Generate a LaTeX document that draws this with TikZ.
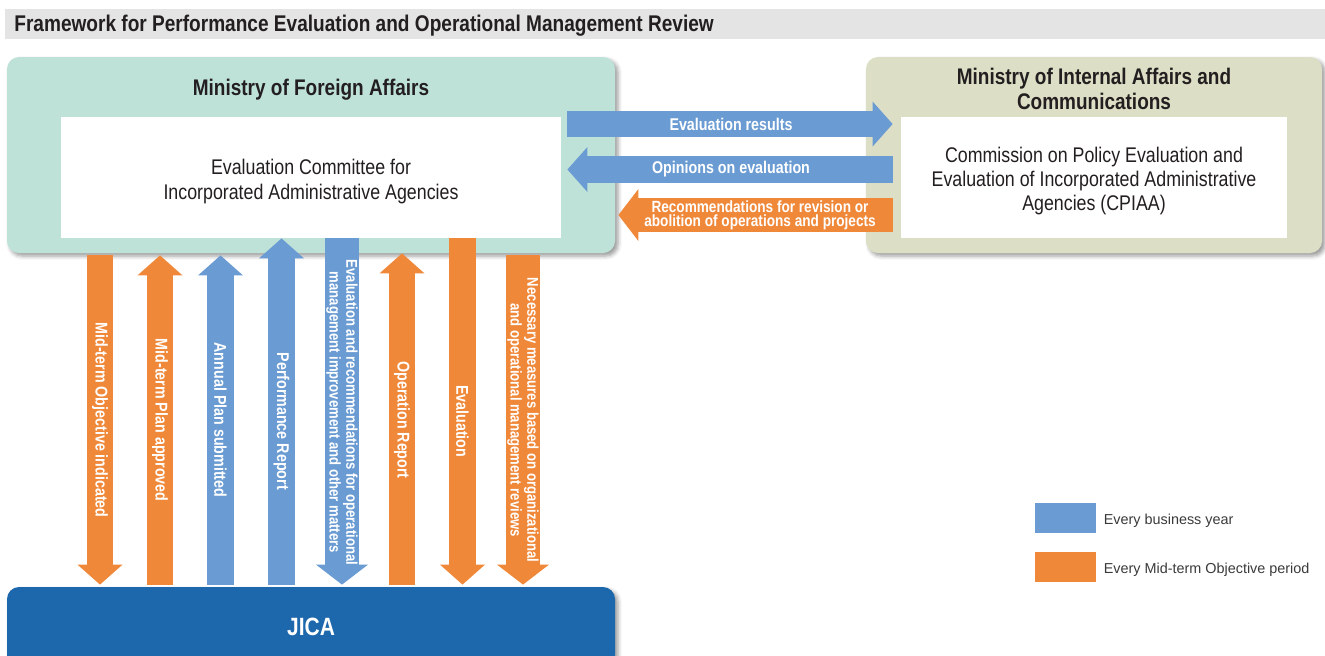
\documentclass[tikz,border=0pt]{standalone}
\usepackage{fontspec}
\setmainfont{Liberation Sans}
\newfontfamily\condfont[FakeStretch=0.84]{Liberation Sans}
\usepackage{tikz}
\usetikzlibrary{arrows.meta, positioning, shadows.blur}
\definecolor{BarGray}{HTML}{E4E4E4}
\definecolor{InkDark}{HTML}{231F20}
\definecolor{MofaTeal}{HTML}{BEE2D8}
\definecolor{MicKhaki}{HTML}{DCDFC5}
\definecolor{JicaBlue}{HTML}{1D68AD}
\definecolor{YearBlue}{HTML}{6A9BD2}
\definecolor{TermOrange}{HTML}{F0883A}
\definecolor{LegendInk}{HTML}{3A3A3A}

\tikzset{
  orgbox/.style={rounded corners=6pt, inner sep=0pt,
    blur shadow={shadow xshift=1.5pt, shadow yshift=-1.5pt, shadow blur radius=2pt, shadow opacity=40}},
  innerbox/.style={fill=white, inner sep=0pt},
  innertext/.style={align=center, inner sep=0pt, text=InkDark,
    font=\condfont\fontsize{10.6}{12.2}\selectfont},
  orgtitle/.style={align=center, text=InkDark, font=\condfont\bfseries\fontsize{11.3}{12.5}\selectfont},
  flowlabel/.style={text=white, align=center, inner sep=0pt,
    font=\condfont\bfseries\fontsize{8.5}{8.5}\selectfont},
  twolinelabel/.style={flowlabel, font=\condfont\bfseries\fontsize{7.8}{8.4}\selectfont},
  flow/.style={line width=13.3pt, -{Triangle[length=10pt, width=22.5pt, line width=0pt]}},
  wideflow/.style={line width=17pt, -{Triangle[length=10pt, width=26pt, line width=0pt]}},
  legendtext/.style={anchor=west, inner sep=0pt, yshift=-1.5pt, text=LegendInk, font=\fontsize{7.2}{8}\selectfont}
}

\begin{document}
\begin{tikzpicture}[x=0.5pt, y=-0.5pt]
  \useasboundingbox (0,0) rectangle (1325,655);
  \clip (0,0) rectangle (1325,655);

  % heading bar
  \fill[BarGray] (5,9) rectangle (1325,39);
  \node[anchor=base west, inner sep=0pt, text=InkDark,
    font=\condfont\bfseries\fontsize{11.35}{12}\selectfont] (heading) at (14,31.5)
    {Framework for Performance Evaluation and Operational Management Review};

  % ministries
  \node[orgbox, fill=MofaTeal, minimum width=304pt, minimum height=98pt] (mofa) at (311,155) {};
  \node[orgtitle] (mofatitle) at (311,89.5) {Ministry of Foreign Affairs};
  \node[innerbox, minimum width=250pt, minimum height=60.5pt] (committee) at (311,177.5) {};
  \node[innertext, yshift=-2pt] (committeetext) at (committee.center)
    {Evaluation Committee for\\Incorporated Administrative Agencies};

  \node[orgbox, fill=MicKhaki, minimum width=228pt, minimum height=98pt] (mic) at (1094,155) {};
  \node[orgtitle] (mictitle) at (1094,88.5) {Ministry of Internal Affairs and\\Communications};
  \node[innerbox, minimum width=193pt, minimum height=60.5pt] (cpiaa) at (1094,177.5) {};
  \node[innertext, yshift=-1.8pt] (cpiaatext) at (cpiaa.center)
    {Commission on Policy Evaluation and\\Evaluation of Incorporated Administrative\\Agencies (CPIAA)};

  % JICA
  \node[orgbox, fill=JicaBlue, minimum width=304pt, minimum height=40pt, text=white,
    font=\condfont\bfseries\fontsize{12.5}{14}\selectfont] (jica) at (311,627) {JICA};

  % flows between the ministries
  \draw[flow, YearBlue, shorten <=3pt, shorten >=4pt] (committee.east |- 0,124) -- (cpiaa.west |- 0,124)
    node[flowlabel, midway] {Evaluation results};
  \draw[flow, YearBlue, shorten <=4pt, shorten >=3pt] (cpiaa.west |- 0,169.5) -- (committee.east |- 0,169.5)
    node[flowlabel, midway] {Opinions on evaluation};
  \draw[wideflow, TermOrange, shorten <=4pt, shorten >=1.5pt] (cpiaa.west |- 0,215) -- (mofa.east |- 0,215)
    node[flowlabel, midway, xshift=1pt, font=\condfont\bfseries\fontsize{8.1}{7}\selectfont]
    {Recommendations for revision or\\abolition of operations and projects};

  % flows between the ministry and JICA
  \draw[flow, TermOrange, shorten <=1pt, shorten >=1pt] (100,0 |- mofa.south) -- (100,0 |- jica.north)
    node[flowlabel, midway, rotate=-90] {Mid-term Objective indicated};
  \draw[flow, TermOrange, shorten <=1pt, shorten >=1pt] (160,0 |- jica.north) -- (160,0 |- mofa.south)
    node[flowlabel, midway, rotate=-90] {Mid-term Plan approved};
  \draw[flow, YearBlue, shorten <=1pt, shorten >=1pt] (220.5,0 |- jica.north) -- (220.5,0 |- mofa.south)
    node[flowlabel, midway, rotate=-90] {Annual Plan submitted};
  \draw[flow, YearBlue, shorten <=1pt] (281.5,0 |- jica.north) -- (281.5,0 |- committee.south)
    node[flowlabel, pos=.475, rotate=-90] {Performance Report};
  \draw[wideflow, YearBlue, shorten >=1pt] (342,0 |- committee.south) -- (342,0 |- jica.north)
    node[twolinelabel, pos=.5, rotate=-90]
    {Evaluation and recommendations for operational\\management improvement and other matters};
  \draw[flow, TermOrange, shorten <=1pt] (402,0 |- jica.north) -- (402,0 |- mofa.south)
    node[flowlabel, midway, rotate=-90] {Operation Report};
  \draw[flow, TermOrange, shorten >=1pt] (462.5,0 |- committee.south) -- (462.5,0 |- jica.north)
    node[flowlabel, pos=.525, rotate=-90] {Evaluation};
  \draw[wideflow, TermOrange, shorten <=1pt, shorten >=1pt] (523,0 |- mofa.south) -- (523,0 |- jica.north)
    node[twolinelabel, midway, rotate=-90]
    {Necessary measures based on organizational\\and operational management reviews};

  % legend
  \node[fill=YearBlue, minimum width=30.5pt, minimum height=15pt, inner sep=0pt] (keyyear) at (1065.5,517.5) {};
  \node[legendtext, right=3.5pt of keyyear] {Every business year};
  \node[fill=TermOrange, minimum width=30.5pt, minimum height=15pt, inner sep=0pt] (keyterm) at (1065.5,566.5) {};
  \node[legendtext, right=3.5pt of keyterm] {Every Mid-term Objective period};
\end{tikzpicture}
\end{document}
